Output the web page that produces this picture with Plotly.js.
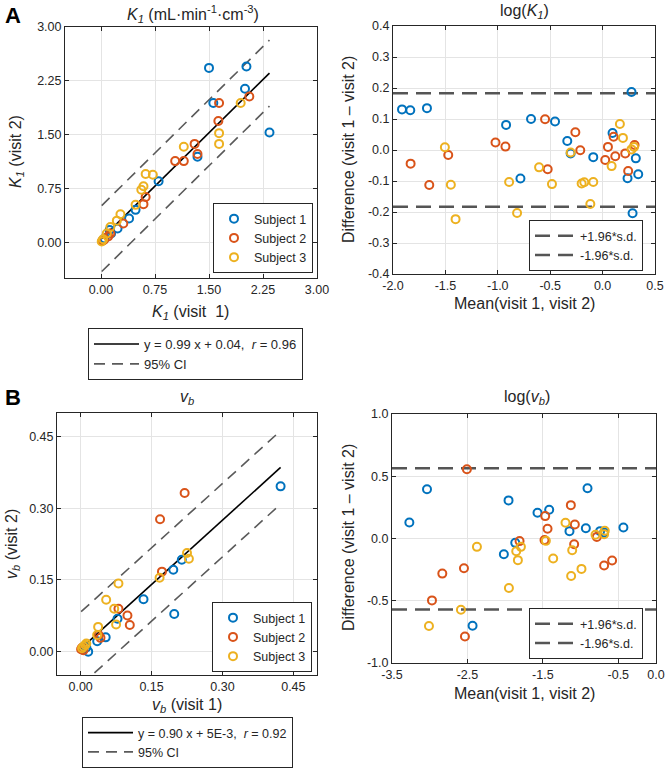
<!DOCTYPE html>
<html>
<head>
<meta charset="utf-8">
<script src="https://cdn.plot.ly/plotly-3.0.1.min.js"></script>
<style>
  html, body { margin: 0; padding: 0; background: #fff; overflow: hidden; width: 665px; height: 769px; }
  #chart { width: 665px; height: 769px; overflow: hidden; }
</style>
</head>
<body>
<div id="chart"></div>
<script>
// --- A: K1, visit 1 vs visit 2 ---
const k1S1V1 = [1.50, 2.02, 2.00, 1.56, 2.34, 1.34, 0.80, 0.48, 0.39, 0.23, 0.14, 0.12, 0.05, 0.03];
const k1S1V2 = [2.43, 2.45, 2.14, 1.94, 1.53, 1.19, 0.85, 0.45, 0.33, 0.19, 0.12, 0.17, 0.05, 0.03];
const k1S2V1 = [2.06, 1.64, 1.63, 1.30, 1.34, 1.03, 1.15, 0.62, 0.59, 0.31, 0.13, 0.10, 0.02, 0.04];
const k1S2V2 = [2.03, 1.94, 1.69, 1.37, 1.23, 1.13, 1.13, 0.63, 0.53, 0.26, 0.12, 0.08, 0.02, 0.03];
const k1S3V1 = [1.94, 1.64, 1.64, 1.15, 0.62, 0.72, 0.59, 0.56, 0.48, 0.27, 0.22, 0.13, 0.08, 0.03, 0.01];
const k1S3V2 = [1.94, 1.52, 1.37, 1.33, 0.95, 0.94, 0.78, 0.73, 0.52, 0.39, 0.30, 0.21, 0.12, 0.04, 0.01];
const k1Slope = 0.99, k1Intercept = 0.04, k1Ci = 0.46;
const k1Ticks = [0, 0.75, 1.5, 2.25, 3];

// --- A: log(K1) Bland-Altman ---
const lk1S1Mean = [-1.914, -1.835, -1.676, -0.921, -0.683, -0.454, -0.337, -0.305, -0.784, -0.089, 0.276, 0.095, 0.317, 0.340, 0.238, 0.286];
const lk1S1Diff = [0.131, 0.128, 0.135, 0.081, 0.100, 0.092, 0.029, -0.011, -0.092, -0.023, 0.187, 0.055, -0.027, -0.078, -0.091, -0.204];
const lk1S2Mean = [-1.832, -1.654, -1.473, -1.022, -0.927, -0.549, -0.524, -0.260, -0.213, 0.051, 0.025, 0.105, 0.121, 0.216, 0.305, 0.244];
const lk1S2Diff = [-0.044, -0.113, -0.016, 0.024, 0.011, 0.099, -0.062, 0.057, -0.001, 0.010, -0.032, 0.043, -0.020, -0.011, 0.016, -0.068];
const lk1S3Mean = [-1.505, -1.448, -1.403, -0.892, -0.816, -0.606, -0.483, -0.305, -0.200, -0.175, -0.089, -0.117, 0.086, 0.165, 0.194, 0.276, 0.300];
const lk1S3Diff = [0.009, -0.112, -0.223, -0.103, -0.203, -0.056, -0.110, -0.008, -0.108, -0.104, -0.103, -0.174, -0.052, 0.084, 0.039, 0.002, 0.010];
const lk1Upper = 0.183, lk1Lower = -0.183;
const lk1XTicks = [-2, -1.5, -1, -0.5, 0, 0.5];
const lk1YTicks = [-0.4, -0.3, -0.2, -0.1, 0, 0.1, 0.2, 0.3, 0.4];

// --- B: vb, visit 1 vs visit 2 ---
const vbS1V1 = [0.423, 0.214, 0.196, 0.198, 0.133, 0.078, 0.053, 0.035, 0.016, 0.012, 0.005];
const vbS1V2 = [0.346, 0.192, 0.171, 0.078, 0.109, 0.068, 0.029, 0.021, -0.001, 0.008, 0.003];
const vbS2V1 = [0.220, 0.168, 0.172, 0.080, 0.099, 0.104, 0.042, 0.038, 0.001, 0.003, 0.006];
const vbS2V2 = [0.332, 0.277, 0.167, 0.089, 0.075, 0.055, 0.028, 0.034, 0.004, 0.007, 0.002];
const vbS3V1 = [0.225, 0.229, 0.167, 0.080, 0.054, 0.071, 0.075, 0.037, 0.035, 0.010, 0.003, 0.012, 0.006];
const vbS3V2 = [0.206, 0.194, 0.154, 0.142, 0.108, 0.089, 0.056, 0.051, 0.034, 0.013, 0.006, 0.016, 0.010];
const vbSlope = 0.90, vbIntercept = 0.005, vbCi = 0.077;
const vbTicks = [0, 0.15, 0.3, 0.45];

// --- B: log(vb) Bland-Altman ---
const lvbS1Mean = [-3.270, -3.036, -1.955, -2.017, -1.866, -1.571, -1.416, -2.432, -1.147, -0.908, -0.930, -0.741, -0.688, -0.432];
const lvbS1Diff = [0.129, 0.395, 0.306, -0.126, -0.035, 0.207, 0.231, -0.701, 0.059, 0.403, 0.083, 0.059, 0.048, 0.089];
const lvbS2Mean = [-2.507, -2.833, -2.970, -2.546, -2.533, -1.809, -1.469, -1.438, -1.478, -1.129, -1.076, -1.085, -0.785, -0.688, -0.582];
const lvbS2Diff = [0.556, -0.282, -0.497, -0.239, -0.787, -0.021, 0.180, 0.078, -0.013, 0.268, 0.113, -0.046, 0.013, -0.217, -0.177];
const lvbS3Mean = [-3.010, -2.586, -2.374, -1.950, -1.853, -1.791, -1.831, -1.460, -1.363, -1.200, -1.111, -1.125, -0.988, -0.802, -0.688, -0.679];
const lvbS3Diff = [-0.703, -0.572, -0.067, -0.397, -0.102, -0.067, -0.174, -0.019, -0.161, 0.126, -0.094, -0.301, -0.244, 0.030, 0.035, 0.062];
const lvbUpper = 0.565, lvbLower = -0.570;
const lvbXTicks = [-3.5, -2.5, -1.5, -0.5, 0];
const lvbYTicks = [-1, -0.5, 0, 0.5, 1];

const subjectNames = ['Subject 1', 'Subject 2', 'Subject 3'];
const subjectColors = ['#0072BD', '#D95319', '#EDB120'];

const FONT = 'Liberation Sans, Arial, Helvetica, sans-serif';
const INK = '#262626';
const W = 665, H = 769;

// pixel helpers -> paper coords
const px = v => v / W;
const py = v => (H - v) / H;

function subjectTrace(x, y, i, xa, ya, legend, showlegend) {
  return {
    x: x, y: y, type: 'scatter', mode: 'markers', name: subjectNames[i],
    xaxis: xa, yaxis: ya, legend: legend, showlegend: showlegend,
    marker: { symbol: 'circle-open', size: 8, color: subjectColors[i], line: { width: 2, color: subjectColors[i] } },
    cliponaxis: true, hoverinfo: 'x+y'
  };
}

function fitTraces(allX, slope, intercept, ci, label, xa, ya, legend) {
  const x0 = Math.min(...allX), x1 = Math.max(...allX);
  const f = x => slope * x + intercept;
  return [
    {
      x: [x0, x1], y: [f(x0), f(x1)], type: 'scatter', mode: 'lines', name: label,
      xaxis: xa, yaxis: ya, legend: legend, line: { color: '#000', width: 1.6 }
    },
    {
      x: [x0, x1, null, x0, x1], y: [f(x0) + ci, f(x1) + ci, null, f(x0) - ci, f(x1) - ci],
      type: 'scatter', mode: 'lines', name: '95% CI', xaxis: xa, yaxis: ya, legend: legend,
      line: { color: '#5a5a5a', width: 1.6, dash: '11px,7px' }
    }
  ];
}

function limitTraces(range, upper, lower, xa, ya, legend) {
  const style = { color: '#555', width: 2.5, dash: '15px,8px' };
  return [
    { x: range, y: [upper, upper], type: 'scatter', mode: 'lines', name: '+1.96*s.d.', xaxis: xa, yaxis: ya, legend: legend, line: style },
    { x: range, y: [lower, lower], type: 'scatter', mode: 'lines', name: '-1.96*s.d.', xaxis: xa, yaxis: ya, legend: legend, line: style }
  ];
}

function axis(domain, range, ticks, digits, anchor) {
  return {
    domain: domain, range: range, anchor: anchor,
    tickmode: 'array', tickvals: ticks, ticktext: ticks.map(v => v.toFixed(digits)),
    ticks: 'inside', ticklen: 4, tickcolor: INK, tickwidth: 1,
    showline: true, mirror: 'ticks', linecolor: INK, linewidth: 1,
    showgrid: true, gridcolor: '#e4e4e4', gridwidth: 1, zeroline: false,
    tickfont: { family: FONT, size: 12.5, color: INK },
    automargin: false, fixedrange: true
  };
}

// legends are pinned by their bottom edge so they stay inside the axes
function legendBox(x, y, yanchor, size, itemwidth) {
  return {
    x: x, y: y, xanchor: 'left', yanchor: yanchor,
    bgcolor: '#fff', bordercolor: INK, borderwidth: 1,
    font: { family: FONT, size: size, color: INK },
    itemwidth: itemwidth, tracegroupgap: 0, itemclick: false, itemdoubleclick: false
  };
}

function label(text, x, y, opts) {
  return Object.assign({
    text: text, x: px(x), y: py(y), xref: 'paper', yref: 'paper',
    showarrow: false, xanchor: 'center', yanchor: 'middle',
    font: { family: FONT, size: 16, color: INK }
  }, opts || {});
}

const lk1Range = [-2, 0.5];
const lvbRange = [-3.5, 0];

const data = [
  // A left
  ...fitTraces([...k1S1V1, ...k1S2V1, ...k1S3V1], k1Slope, k1Intercept, k1Ci,
    'y = 0.99 x + 0.04,  <i>r</i> = 0.96', 'x', 'y', 'legend2'),
  subjectTrace(k1S1V1, k1S1V2, 0, 'x', 'y', 'legend', true),
  subjectTrace(k1S2V1, k1S2V2, 1, 'x', 'y', 'legend', true),
  subjectTrace(k1S3V1, k1S3V2, 2, 'x', 'y', 'legend', true),
  // A right
  ...limitTraces(lk1Range, lk1Upper, lk1Lower, 'x2', 'y2', 'legend3'),
  subjectTrace(lk1S1Mean, lk1S1Diff, 0, 'x2', 'y2', 'legend', false),
  subjectTrace(lk1S2Mean, lk1S2Diff, 1, 'x2', 'y2', 'legend', false),
  subjectTrace(lk1S3Mean, lk1S3Diff, 2, 'x2', 'y2', 'legend', false),
  // B left
  ...fitTraces([...vbS1V1, ...vbS2V1, ...vbS3V1], vbSlope, vbIntercept, vbCi,
    'y = 0.90 x + 5E-3,  <i>r</i> = 0.92', 'x3', 'y3', 'legend5'),
  subjectTrace(vbS1V1, vbS1V2, 0, 'x3', 'y3', 'legend4', true),
  subjectTrace(vbS2V1, vbS2V2, 1, 'x3', 'y3', 'legend4', true),
  subjectTrace(vbS3V1, vbS3V2, 2, 'x3', 'y3', 'legend4', true),
  // B right
  ...limitTraces(lvbRange, lvbUpper, lvbLower, 'x4', 'y4', 'legend6'),
  subjectTrace(lvbS1Mean, lvbS1Diff, 0, 'x4', 'y4', 'legend', false),
  subjectTrace(lvbS2Mean, lvbS2Diff, 1, 'x4', 'y4', 'legend', false),
  subjectTrace(lvbS3Mean, lvbS3Diff, 2, 'x4', 'y4', 'legend', false)
];

const K1 = '<i>K<sub>1</sub></i>';
const VB = '<i>v<sub>b</sub></i>';

const layout = {
  width: W, height: H,
  margin: { l: 0, r: 0, t: 0, b: 0, autoexpand: false },
  paper_bgcolor: '#fff', plot_bgcolor: '#fff',
  font: { family: FONT, color: INK },
  showlegend: true,
  xaxis: axis([px(65), px(317)], [-0.5, 3], k1Ticks, 2, 'y'),
  yaxis: axis([py(278), py(27)], [-0.5, 3], k1Ticks, 2, 'x'),
  xaxis2: axis([px(393), px(655)], lk1Range, lk1XTicks, 1, 'y2'),
  yaxis2: axis([py(274), py(26)], [-0.4, 0.4], lk1YTicks, 1, 'x2'),
  xaxis3: axis([px(57), px(317)], [-0.05, 0.5], vbTicks, 2, 'y3'),
  yaxis3: axis([py(675), py(413)], [-0.05, 0.5], vbTicks, 2, 'x3'),
  xaxis4: axis([px(392), px(656)], lvbRange, lvbXTicks, 1, 'y4'),
  yaxis4: axis([py(663), py(414)], [-1, 1], lvbYTicks, 1, 'x4'),
  legend: legendBox(px(213), py(273), 'bottom', 12.5, 30),
  legend2: legendBox(px(88), py(328), 'top', 13, 45),
  legend3: legendBox(px(529), py(271), 'bottom', 12.5, 40),
  legend4: legendBox(px(212), py(672), 'bottom', 12.5, 30),
  legend5: legendBox(px(82), py(768), 'bottom', 12.5, 45),
  legend6: legendBox(px(529), py(659), 'bottom', 12.5, 40),
  annotations: [
    label('<b>A</b>', 13, 15, { font: { family: FONT, size: 22, color: '#000' } }),
    label('<b>B</b>', 13, 397, { font: { family: FONT, size: 22, color: '#000' } }),
    // titles
    label(K1 + ' (mL·min<sup>-1</sup>·cm<sup>-3</sup>)', 193, 14),
    label('log(' + K1 + ')', 524, 12),
    label(VB, 187, 397),
    label('log(' + VB + ')', 527, 397),
    // axis titles
    label(K1 + ' (visit  1)', 191, 312),
    label(K1 + ' (visit 2)', 17, 152, { textangle: -90 }),
    label('Mean(visit 1, visit 2)', 524, 303),
    label('Difference (visit 1 \u2013 visit 2)', 348, 150, { textangle: -90 }),
    label(VB + ' (visit 1)', 187, 705),
    label(VB + ' (visit 2)', 12, 544, { textangle: -90 }),
    label('Mean(visit 1, visit 2)', 524, 693),
    label('Difference (visit 1 \u2013 visit 2)', 348, 538, { textangle: -90 })
  ]
};

Plotly.newPlot('chart', data, layout, { displayModeBar: false, responsive: false, staticPlot: true });
</script>
</body>
</html>
